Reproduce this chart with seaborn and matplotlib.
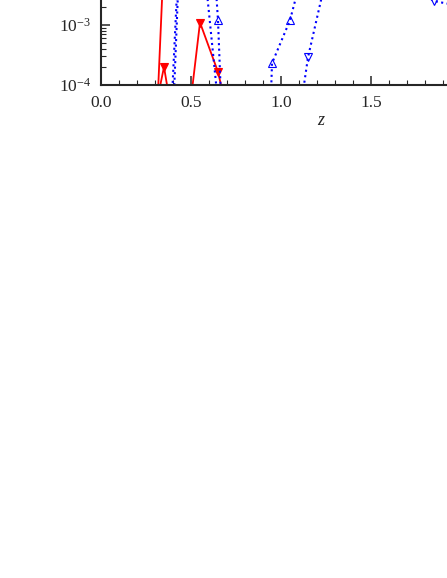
import matplotlib
matplotlib.use('Agg')
import matplotlib.pyplot as plt
import seaborn as sns
from matplotlib.ticker import MultipleLocator, LogLocator

# red curves: solid line, filled down triangles
red_a_z = [0.25, 0.35, 0.45, 0.55]
red_a_val = [2e-9, 1.5e-2, 0.5, 2.0]
red_b_z = [0.25, 0.35, 0.45, 0.55, 0.65, 0.75, 0.85]
red_b_val = [6.8e-6, 2.0e-4, 3.2e-6, 1.1e-3, 1.65e-4, 8.3e-6, 1e-6]

# blue curves: dotted line, open up / down triangles
blue_z = [0.25, 0.35, 0.45, 0.55, 0.65, 0.75, 0.85, 0.95, 1.05, 1.15,
          1.25, 1.35, 1.45, 1.55, 1.65, 1.75, 1.85, 1.95, 2.05]
blue_up_val = [1e-9, 5e-9, 0.16, 38.0, 1.2e-3, 2e-11, 1e-13, 2.3e-4, 1.2e-3, 1.7e-2,
               0.04, 0.06, 0.08, 0.09, 0.1, 0.1, 0.1, 0.1, 0.1]
blue_dn_val = [1e-9, 1e-7, 0.2, 0.05, 5e-5, 1e-9, 1e-9, 1e-8, 2.5e-6, 2.9e-4,
               6e-3, 0.03, 0.05, 0.05, 0.03, 4e-3, 2.5e-3, 2.2e-3, 2e-3]

x_ticks = [0.0, 0.5, 1.0, 1.5, 2.0]

sns.set_style('ticks')
plt.rcParams['font.family'] = ['Liberation Serif', 'DejaVu Serif']
plt.rcParams['mathtext.fontset'] = 'custom'
plt.rcParams['mathtext.rm'] = 'Liberation Serif'
plt.rcParams['mathtext.it'] = 'Liberation Serif:italic'

fig = plt.figure(figsize=(4.47, 5.78), dpi=100)
# the axes run past the top and right edge of the figure (cropped view)
ax = fig.add_axes([101 / 447, 493 / 578, 441 / 447, 300 / 578])
ax.set_yscale('log')

sns.lineplot(x=red_a_z, y=red_a_val, ax=ax, color='red', lw=1.3, marker='v',
             markersize=6, markeredgecolor='red', markeredgewidth=0.8,
             errorbar=None, legend=False)
sns.lineplot(x=red_b_z, y=red_b_val, ax=ax, color='red', lw=1.3, marker='v',
             markersize=6, markeredgecolor='red', markeredgewidth=0.8,
             errorbar=None, legend=False)
sns.lineplot(x=blue_z, y=blue_up_val, ax=ax, color='blue', lw=1.5, linestyle=':',
             marker='^', markersize=6, markerfacecolor='none', markeredgecolor='blue',
             markeredgewidth=0.8, errorbar=None, legend=False)
sns.lineplot(x=blue_z, y=blue_dn_val, ax=ax, color='blue', lw=1.5, linestyle=':',
             marker='v', markersize=6, markerfacecolor='none', markeredgecolor='blue',
             markeredgewidth=0.8, errorbar=None, legend=False)

ax.set_xlim(0, 2.45)
ax.set_ylim(1e-4, 1e1)
ax.set_xticks(x_ticks)
ax.set_xticklabels([f'{t:.1f}' for t in x_ticks])
ax.xaxis.set_minor_locator(MultipleLocator(0.1))
ax.yaxis.set_major_locator(LogLocator(base=10, numticks=20))
ax.yaxis.set_minor_locator(LogLocator(base=10, subs=range(2, 10), numticks=20))

for side in ['left', 'bottom', 'top', 'right']:
    ax.spines[side].set_linewidth(1.5)
ax.tick_params(which='both', direction='in', top=True, right=True, labelsize=12.5)
ax.tick_params(which='major', length=6.5, width=1.1, pad=7)
ax.tick_params(which='minor', length=3.5, width=0.8)

ax.set_xlabel('$z$', fontsize=13, labelpad=1)
ax.set_ylabel('')

plt.savefig('out.png', dpi=100)
plt.close()
